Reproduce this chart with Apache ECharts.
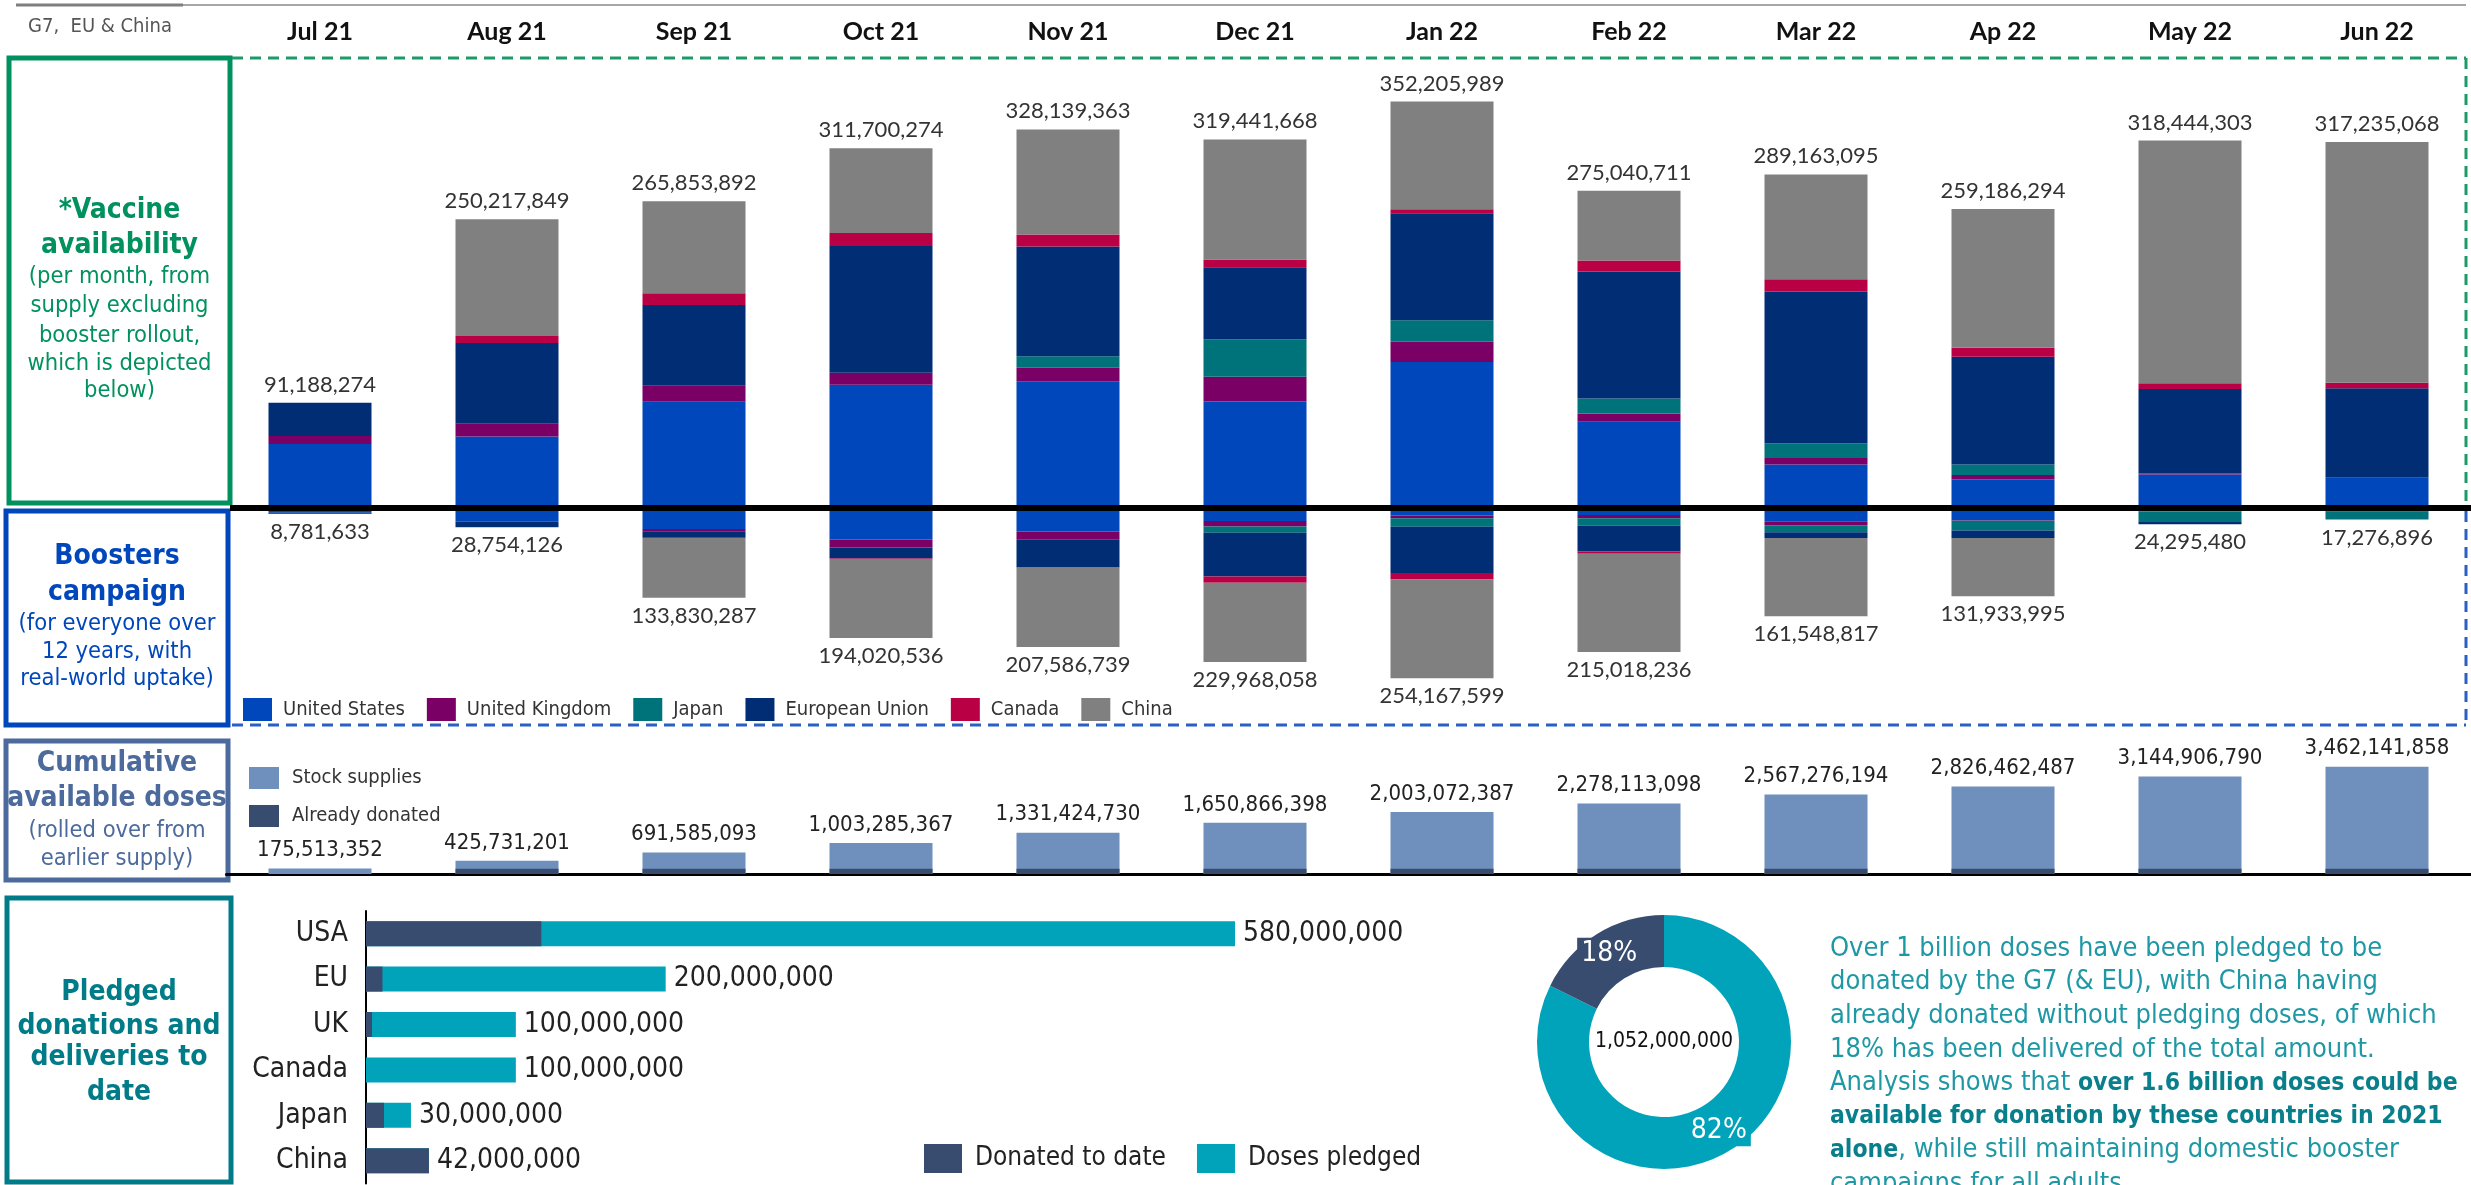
<!DOCTYPE html>
<html>
<head>
<meta charset="utf-8">
<title>G7, EU & China vaccine availability</title>
<script src="https://cdn.jsdelivr.net/npm/echarts@6/dist/echarts.min.js"></script>
<style>
  html, body { margin: 0; padding: 0; background: #fff; }
  #chart { width: 2471px; height: 1185px; }
</style>
</head>
<body>
<div id="chart"></div>
<script>
// ---- data (millions of doses unless said otherwise) ----
var months = ["Jul 21", "Aug 21", "Sep 21", "Oct 21", "Nov 21", "Dec 21", "Jan 22", "Feb 22", "Mar 22", "Ap 22", "May 22", "Jun 22"];
var countries = ["United States", "United Kingdom", "Japan", "European Union", "Canada", "China"];

// monthly availability, excluding boosters
var supplyUS     = [55.5, 62, 92, 106.7, 109.8, 92.3, 126.6, 74.7, 37.6, 24.8, 29.1, 26];
var supplyUK     = [6.8, 11, 14, 10.6, 11.8, 21.5, 17.5, 7.1, 5.8, 3.9, 0.8, 0.6];
var supplyJapan  = [0, 0, 0, 0, 9.8, 32.3, 18.5, 13.1, 12.4, 8.9, 0, 0];
var supplyEU     = [28.9, 70, 70, 109.7, 95.3, 62.6, 92.9, 110.1, 131.9, 93.5, 73.3, 77.2];
var supplyCanada = [0, 6, 10, 11.3, 10.4, 6.7, 3.4, 9.4, 10.5, 7.8, 5.0, 4.7];
var supplyChina  = [0, 101.2, 79.85, 73.4, 91.0, 104.0, 93.3, 60.6, 90.9, 120.3, 210.2, 208.7];
var supplyTotals = [91188274, 250217849, 265853892, 311700274, 328139363, 319441668, 352205989, 275040711, 289163095, 259186294, 318444303, 317235068];

// booster campaign
var boosterUS     = [7.2, 20.5, 31.5, 46.9, 35, 19.3, 11.1, 10.5, 20.4, 18.4, 5.2, 5.5];
var boosterUK     = [0, 0, 3.2, 12, 12.3, 8.2, 4.1, 4.7, 5.3, 0.7, 0, 0];
var boosterJapan  = [0, 0, 0, 0, 0, 9.3, 12.8, 11.1, 10.5, 14.5, 14.5, 11.8];
var boosterEU     = [1.3, 7.8, 9.8, 16.6, 41.4, 65.4, 68.9, 38.5, 8.6, 11.2, 4.6, 0];
var boosterCanada = [0.28, 0.45, 0.3, 0.5, 0.6, 9.3, 9.9, 3.5, 0, 0, 0, 0];
var boosterChina  = [0, 0, 89.03, 118.02, 118.3, 118.5, 147.4, 146.7, 116.7, 87.1, 0, 0];
var boosterTotals = [8781633, 28754126, 133830287, 194020536, 207586739, 229968058, 254167599, 215018236, 161548817, 131933995, 24295480, 17276896];

// cumulative available doses
var cumulativeTotals = [175513352, 425731201, 691585093, 1003285367, 1331424730, 1650866398, 2003072387, 2278113098, 2567276194, 2826462487, 3144906790, 3462141858];
var alreadyDonated = [0, 170, 170, 170, 170, 170, 170, 170, 170, 170, 170, 170];

// pledges (doses)
var pledgeCountries = ["USA", "EU", "UK", "Canada", "Japan", "China"];
var dosesPledged  = [580000000, 200000000, 100000000, 100000000, 30000000, 42000000];
var donatedToDate = [117000000, 11000000, 4000000, 0, 12000000, 42000000];

// ---- styling ----
var COND = "'Liberation Sans Narrow', 'DejaVu Sans Condensed', Roboto, sans-serif";
var XL = "Lato, 'Open Sans', sans-serif";
var countryColors = ["#0047BB", "#7A0066", "#00727A", "#002D74", "#BA0045", "#808080"];
var fmt = function (v) { return Math.round(v).toLocaleString("en-US"); };

var chart = echarts.init(document.getElementById("chart"), null, { renderer: "canvas" });

var supplyData = [supplyUS, supplyUK, supplyJapan, supplyEU, supplyCanada, supplyChina];
var boosterData = [boosterUS, boosterUK, boosterJapan, boosterEU, boosterCanada, boosterChina];

var series = [];
countries.forEach(function (name, i) {
  series.push({
    name: name, type: "bar", xAxisIndex: 0, yAxisIndex: 0, stack: "supply",
    barWidth: 103, barGap: "-100%", data: supplyData[i],
    itemStyle: { color: countryColors[i] }
  });
});
series.push({
  name: "supplyTotal", type: "bar", xAxisIndex: 0, yAxisIndex: 0,
  barWidth: 103, barGap: "-100%", silent: true,
  data: supplyTotals.map(function (v) { return v / 1e6; }),
  itemStyle: { color: "rgba(0,0,0,0)" },
  label: {
    show: true, position: "top", distance: 7,
    formatter: function (p) { return fmt(supplyTotals[p.dataIndex]); },
    fontFamily: XL, fontSize: 22, color: "#333"
  }
});
countries.forEach(function (name, i) {
  series.push({
    name: name, type: "bar", xAxisIndex: 1, yAxisIndex: 1, stack: "booster",
    barWidth: 103, barGap: "-100%", data: boosterData[i],
    itemStyle: { color: countryColors[i] }
  });
});
series.push({
  name: "boosterTotal", type: "bar", xAxisIndex: 1, yAxisIndex: 1,
  barWidth: 103, barGap: "-100%", silent: true,
  data: boosterTotals.map(function (v) { return v / 1e6; }),
  itemStyle: { color: "rgba(0,0,0,0)" },
  label: {
    show: true, position: "bottom", distance: 7,
    formatter: function (p) { return fmt(boosterTotals[p.dataIndex]); },
    fontFamily: XL, fontSize: 22, color: "#333"
  }
});

// cumulative
series.push({
  name: "Stock supplies", type: "bar", xAxisIndex: 2, yAxisIndex: 2,
  barWidth: 103, barGap: "-100%",
  data: cumulativeTotals.map(function (v) { return v / 1e6; }),
  itemStyle: { color: "#6F8FBC" },
  label: {
    show: true, position: "top", distance: 7,
    formatter: function (p) { return fmt(cumulativeTotals[p.dataIndex]); },
    fontFamily: COND, fontSize: 22, color: "#222"
  }
});
series.push({
  name: "Already donated", type: "bar", xAxisIndex: 2, yAxisIndex: 2,
  barWidth: 103, barGap: "-100%", data: alreadyDonated,
  itemStyle: { color: "#374C6E" }
});

// pledges
series.push({
  name: "Doses pledged", type: "bar", xAxisIndex: 3, yAxisIndex: 3,
  barWidth: 25, barGap: "-100%", data: dosesPledged,
  itemStyle: { color: "#00A3BA" },
  label: {
    show: true, position: "right", distance: 8,
    formatter: function (p) { return fmt(p.value); },
    fontFamily: COND, fontSize: 28, color: "#222"
  }
});
series.push({
  name: "Donated to date", type: "bar", xAxisIndex: 3, yAxisIndex: 3,
  barWidth: 25, barGap: "-100%", data: donatedToDate,
  itemStyle: { color: "#374C6E" }
});

// donut
var totalPledged = dosesPledged.reduce(function (a, b) { return a + b; }, 0);
var totalDonated = donatedToDate.reduce(function (a, b) { return a + b; }, 0);
series.push({
  type: "pie", center: [1664, 1042], radius: [75, 127],
  startAngle: 90, clockwise: true, silent: true,
  labelLine: { show: false },
  label: {
    show: true, position: "inside", color: "#fff",
    fontFamily: COND, fontSize: 28,
    formatter: function (p) { return Math.round(p.percent) + "%"; }
  },
  data: [
    { name: "Doses pledged", value: totalPledged - totalDonated,
      itemStyle: { color: "#00A3BA" }, label: { backgroundColor: "#00A3BA", padding: [2, 4] } },
    { name: "Donated to date", value: totalDonated,
      itemStyle: { color: "#374C6E" }, label: { backgroundColor: "#374C6E", padding: [2, 4] } }
  ]
});

// ---- frames and text ----
function boxText(cx, lines, color) {
  return lines.map(function (l) {
    return {
      type: "text", x: cx, y: l[1],
      style: {
        text: l[0], fill: color, align: "center", verticalAlign: "middle",
        font: (l[2] ? "bold 28px " : "23.5px ") + COND
      }
    };
  });
}
function line(x1, y1, x2, y2, color, w, dash, z) {
  return {
    type: "line", z: z || 10,
    shape: { x1: x1, y1: y1, x2: x2, y2: y2 },
    style: { stroke: color, lineWidth: w, lineDash: dash || null }
  };
}
function box(x, y, w, h, color) {
  return {
    type: "rect", shape: { x: x, y: y, width: w, height: h },
    style: { fill: "#fff", stroke: color, lineWidth: 5 }
  };
}

var graphics = [
  line(16, 5, 2466, 5, "#A6A6A6", 2),
  line(16, 5, 183, 5, "#7F7F7F", 3),
  { type: "text", x: 28, y: 27, style: { text: "G7,  EU & China", fill: "#555", font: "20px " + COND, verticalAlign: "middle" } },
  box(9, 58, 221, 445, "#00915E"),
  box(6, 511, 222, 214, "#0047BB"),
  box(6, 741, 222, 139, "#4C6A9C"),
  box(7, 898, 224, 284, "#007C89"),
  line(232, 58, 2466, 58, "#1E9A68", 3, [11, 7]),
  line(2466, 58, 2466, 505, "#1E9A68", 3, [11, 7]),
  line(2466, 511, 2466, 725, "#2A5FC4", 3, [11, 7]),
  line(232, 725, 2466, 725, "#2A5FC4", 3, [11, 7]),
  line(230, 508, 2471, 508, "#000", 6, null, 100),
  { type: "text", x: 1664, y: 1042, z: 100,
    style: { text: fmt(totalPledged), fill: "#111", font: "21px " + COND, align: "center", verticalAlign: "middle" } },
  { type: "text", x: 1830, y: 932,
    style: {
      text: "{n|Over 1 billion doses have been pledged to be}\n" +
            "{n|donated by the G7 (& EU), with China having}\n" +
            "{n|already donated without pledging doses, of which}\n" +
            "{n|18% has been delivered of the total amount.}\n" +
            "{n|Analysis shows that }{b|over 1.6 billion doses could be}\n" +
            "{b|available for donation by these countries in 2021}\n" +
            "{b|alone}{n|, while still maintaining domestic booster}\n" +
            "{n|campaigns for all adults.}",
      verticalAlign: "top",
      rich: {
        n: { fill: "#1F98A5", fontFamily: COND, fontSize: 27, lineHeight: 33.6 },
        b: { fill: "#0A7F8C", fontFamily: COND, fontSize: 24.5, fontWeight: "bold", lineHeight: 33.6 }
      }
    }
  }
]
.concat(boxText(119.5, [["*Vaccine", 211, 1], ["availability", 246, 1], ["(per month, from", 277], ["supply excluding", 306], ["booster rollout,", 336], ["which is depicted", 364], ["below)", 391]], "#00915E"))
.concat(boxText(117, [["Boosters", 557, 1], ["campaign", 593, 1], ["(for everyone over", 624], ["12 years, with", 652], ["real-world uptake)", 679]], "#0047BB"))
.concat(boxText(117, [["Cumulative", 764, 1], ["available doses", 799, 1], ["(rolled over from", 831], ["earlier supply)", 859]], "#4C6A9C"))
.concat(boxText(119, [["Pledged", 993, 1], ["donations and", 1027, 1], ["deliveries to", 1058, 1], ["date", 1093, 1]], "#007C89"));

var option = {
  animation: false,
  backgroundColor: "#fff",
  grid: [
    { left: 226.5, width: 2244, top: 69.5, height: 438.5 },
    { left: 226.5, width: 2244, top: 508, height: 174.2 },
    { left: 226.5, width: 2244, top: 750, height: 124 },
    { left: 366, width: 899, top: 911, height: 272.4 }
  ],
  xAxis: [
    { gridIndex: 0, type: "category", data: months, position: "top",
      axisLine: { show: false }, axisTick: { show: false },
      axisLabel: { margin: 25, fontFamily: XL, fontWeight: "bold", fontSize: 25, color: "#111" } },
    { gridIndex: 1, type: "category", data: months, show: false },
    { gridIndex: 2, type: "category", data: months,
      axisLine: { lineStyle: { color: "#000", width: 3 } },
      axisTick: { show: false }, axisLabel: { show: false } },
    { gridIndex: 3, type: "value", min: 0, max: 600000000, show: false }
  ],
  yAxis: [
    { gridIndex: 0, type: "value", min: 0, max: 380, show: false },
    { gridIndex: 1, type: "value", min: 0, max: 260, inverse: true, show: false },
    { gridIndex: 2, type: "value", min: 0, max: 4000, show: false },
    { gridIndex: 3, type: "category", data: pledgeCountries, inverse: true,
      axisLine: { lineStyle: { color: "#000", width: 2 } },
      axisTick: { show: false },
      axisLabel: { margin: 18, fontFamily: COND, fontSize: 28, color: "#222" } }
  ],
  legend: [
    { data: countries, left: 238, top: 693, icon: "rect", itemWidth: 29, itemHeight: 23, itemGap: 22,
      selectedMode: false,
      textStyle: { fontFamily: COND, fontSize: 20, color: "#333", padding: [0, 0, 0, 6] } },
    { data: ["Stock supplies", "Already donated"], left: 244, top: 762, orient: "vertical",
      icon: "rect", itemWidth: 30, itemHeight: 22, itemGap: 16, selectedMode: false,
      textStyle: { fontFamily: COND, fontSize: 20, color: "#333", padding: [0, 0, 0, 8] } },
    { data: ["Donated to date", "Doses pledged"], left: 919, top: 1139,
      icon: "rect", itemWidth: 38, itemHeight: 29, itemGap: 31, selectedMode: false,
      textStyle: { fontFamily: COND, fontSize: 26, color: "#222", padding: [0, 0, 0, 8] } }
  ],
  graphic: graphics,
  series: series
};

chart.setOption(option);
</script>
</body>
</html>
